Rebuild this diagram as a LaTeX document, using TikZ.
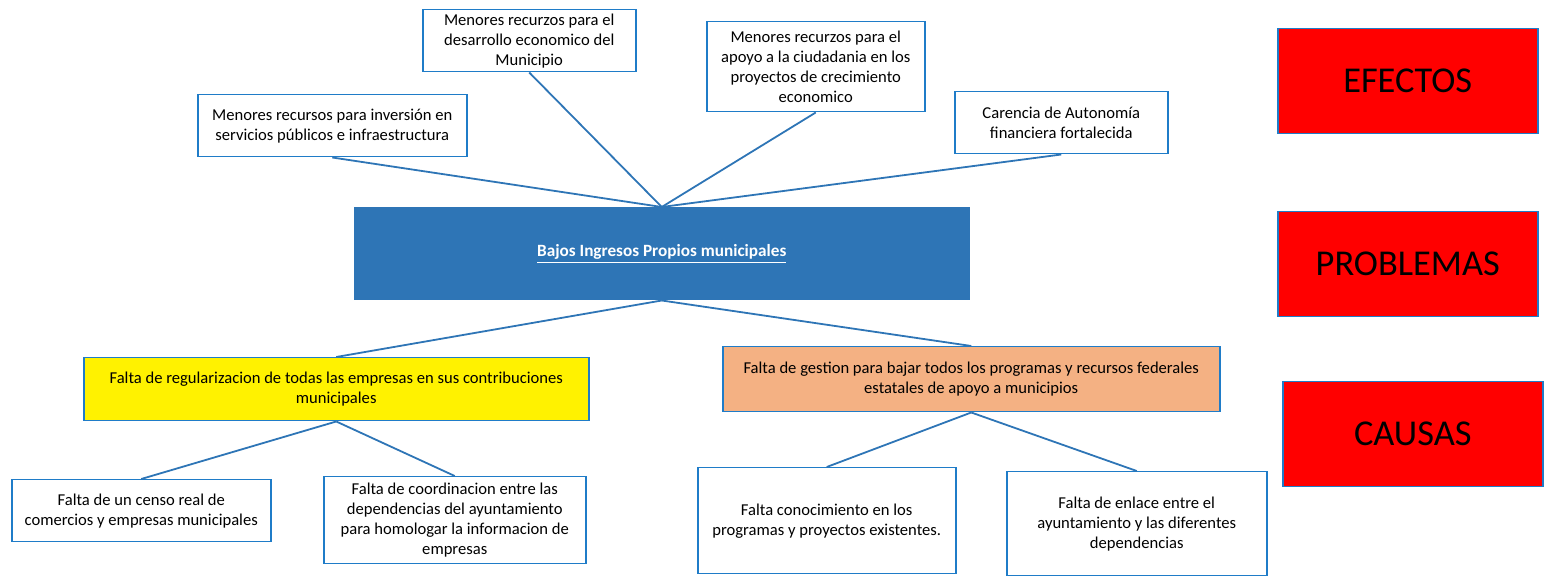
\documentclass[tikz,border=0pt]{standalone}
\usepackage{fontspec}
\setmainfont{Carlito}
\usetikzlibrary{positioning}
\usepackage{xcolor}
\definecolor{azul}{HTML}{2E75B6}
\definecolor{borde}{HTML}{1F7CC8}
\definecolor{naranja}{HTML}{F4B183}

\begin{document}
\begin{tikzpicture}[x=.5pt, y=-.5pt,
caja/.style={draw=borde, line width=.75pt, fill=white, align=center, anchor=north west, inner sep=0pt, font=\fontsize{8.3}{10}\selectfont},
rotulo/.style={draw=borde, line width=.75pt, fill=red, anchor=north west, minimum width=130pt, minimum height=52.5pt, font=\fontsize{18.2}{22}\selectfont},
linea/.style={azul, line width=.9pt}]
\useasboundingbox (0,0) rectangle (1544,576);
% efectos
\node[caja, minimum width=134.5pt, minimum height=31pt] (ef1) at (197,94) {Menores recursos para inversión en\\servicios públicos e infraestructura};
\node[caja, minimum width=106.5pt, minimum height=31pt] (ef2) at (422,9) {Menores recurzos para el\\desarrollo economico del\\Municipio};
\node[caja, minimum width=109pt, minimum height=45pt] (ef3) at (706,21) {Menores recurzos para el\\apoyo a la ciudadania en los\\proyectos de crecimiento\\economico};
\node[caja, minimum width=106.5pt, minimum height=31pt] (ef4) at (954,91) {Carencia de Autonomía\\financiera fortalecida};
% problema
\node[caja, draw=azul, fill=azul, text=white, minimum width=307pt, minimum height=46pt, font=\bfseries\fontsize{8.6}{10}\selectfont] (prob) at (354,207) {\underline{Bajos Ingresos Propios municipales}};
% causas
\node[caja, fill=yellow, minimum width=252.5pt, minimum height=31.5pt] (ca1) at (83,357) {Falta de regularizacion de todas las empresas en sus contribuciones\\municipales};
\node[caja, fill=naranja, minimum width=248.5pt, minimum height=32.5pt] (ca2) at (722,346) {Falta de gestion para bajar todos los programas y recursos federales\\estatales de apoyo a municipios};
\node[caja, minimum width=129.5pt, minimum height=31pt] (ca11) at (11,479) {Falta de un censo real de\\comercios y empresas municipales};
\node[caja, minimum width=131pt, minimum height=43.5pt] (ca12) at (323,476) {Falta de coordinacion entre las\\dependencias del ayuntamiento\\para homologar la informacion de\\empresas};
\node[caja, minimum width=129pt, minimum height=53pt] (ca21) at (697,467) {Falta conocimiento en los\\programas y proyectos existentes.};
\node[caja, minimum width=130pt, minimum height=52pt] (ca22) at (1006,471) {Falta de enlace entre el\\ayuntamiento y las diferentes\\dependencias};
% rotulos
\node[rotulo] (refe) at (1277,28) {EFECTOS};
\node[rotulo] (rpro) at (1277,211) {PROBLEMAS};
\node[rotulo] (rcau) at (1282,381) {CAUSAS};
% lineas
\foreach \n in {ef1,ef2,ef3,ef4}
 \draw[linea] (\n.south) -- (prob.north);
\foreach \n in {ca1,ca2}
 \draw[linea] (prob.south) -- (\n.north);
\foreach \n in {ca11,ca12}
 \draw[linea] (ca1.south) -- (\n.north);
\foreach \n in {ca21,ca22}
 \draw[linea] (ca2.south) -- (\n.north);
\end{tikzpicture}
\end{document}
